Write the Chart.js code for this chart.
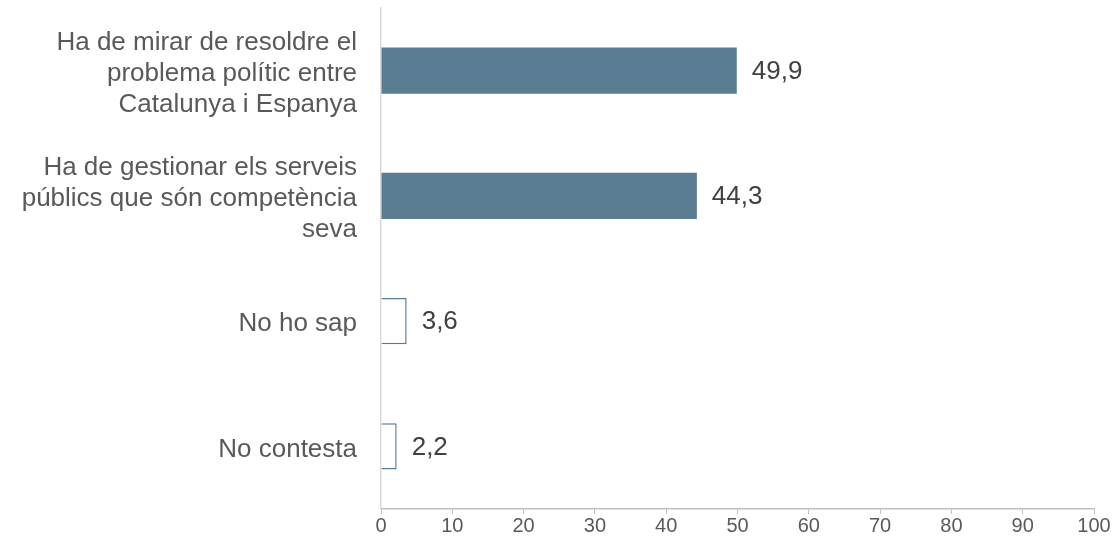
<!DOCTYPE html>
<html>
<head>
<meta charset="utf-8">
<script src="https://cdn.jsdelivr.net/npm/chart.js@4/dist/chart.umd.min.js"></script>
<style>
  html, body { margin: 0; padding: 0; background: #fff; }
  #wrap { width: 1116px; height: 546px; }
</style>
</head>
<body>
<div id="wrap"><canvas id="myChart"></canvas></div>
<script>
// categories (multi-line labels) and values
var categories = [
    ["Ha de mirar de resoldre el", "problema polític entre", "Catalunya i Espanya"],
    ["Ha de gestionar els serveis", "públics que són competència", "seva"],
    "No ho sap",
    "No contesta"
];
var values = [49.9, 44.3, 3.6, 2.2];
var filled = [true, true, false, false];

var barColor = "#5b7d91";
var fontFamily = "'Liberation Sans', Arial, sans-serif";

// draws the value next to each bar, with a comma as decimal mark
var valueLabels = {
    id: "valueLabels",
    afterDatasetsDraw: function(chart) {
        var ctx = chart.ctx;
        var meta = chart.getDatasetMeta(0);
        ctx.save();
        ctx.font = "26px " + fontFamily;
        ctx.fillStyle = "#404040";
        ctx.textBaseline = "middle";
        ctx.textAlign = "left";
        meta.data.forEach(function(bar, i) {
            ctx.fillText(values[i].toFixed(1).replace(".", ","), bar.x + 15, bar.y + 1);
        });
        ctx.restore();
    }
};

const myChart = new Chart("myChart", {
    type: "bar",
    data: {
        labels: categories,
        datasets: [{
            data: values,
            backgroundColor: filled.map(function(f) { return f ? barColor : "#ffffff"; }),
            borderColor: barColor,
            borderWidth: filled.map(function(f) { return f ? 0 : 1.5; }),
            barPercentage: 0.37,
            categoryPercentage: 1
        }]
    },
    options: {
        indexAxis: "y",
        responsive: true,
        maintainAspectRatio: false,
        animation: false,
        layout: { padding: { top: 8, right: 22, bottom: 8, left: 0 } },
        plugins: {
            legend: { display: false },
            tooltip: { enabled: false }
        },
        scales: {
            x: {
                min: 0,
                max: 100,
                ticks: {
                    stepSize: 10,
                    color: "#595959",
                    font: { family: fontFamily, size: 20, lineHeight: 1.2 },
                    padding: 0
                },
                grid: {
                    drawOnChartArea: false,
                    drawTicks: true,
                    tickLength: 5,
                    color: "#bfbfbf"
                },
                border: { display: true, color: "#bfbfbf", width: 1.5 }
            },
            y: {
                ticks: {
                    color: "#595959",
                    font: { family: fontFamily, size: 26, lineHeight: 1.2 },
                    padding: 24,
                    labelOffset: 3
                },
                grid: { display: false, drawTicks: false },
                border: { display: true, color: "#d9d9d9", width: 1.5 },
                afterFit: function(scale) {
                    scale.width = 381;
                    scale.paddingTop = 0;
                    scale.paddingBottom = 0;
                }
            }
        }
    },
    plugins: [valueLabels]
});
</script>
</body>
</html>
